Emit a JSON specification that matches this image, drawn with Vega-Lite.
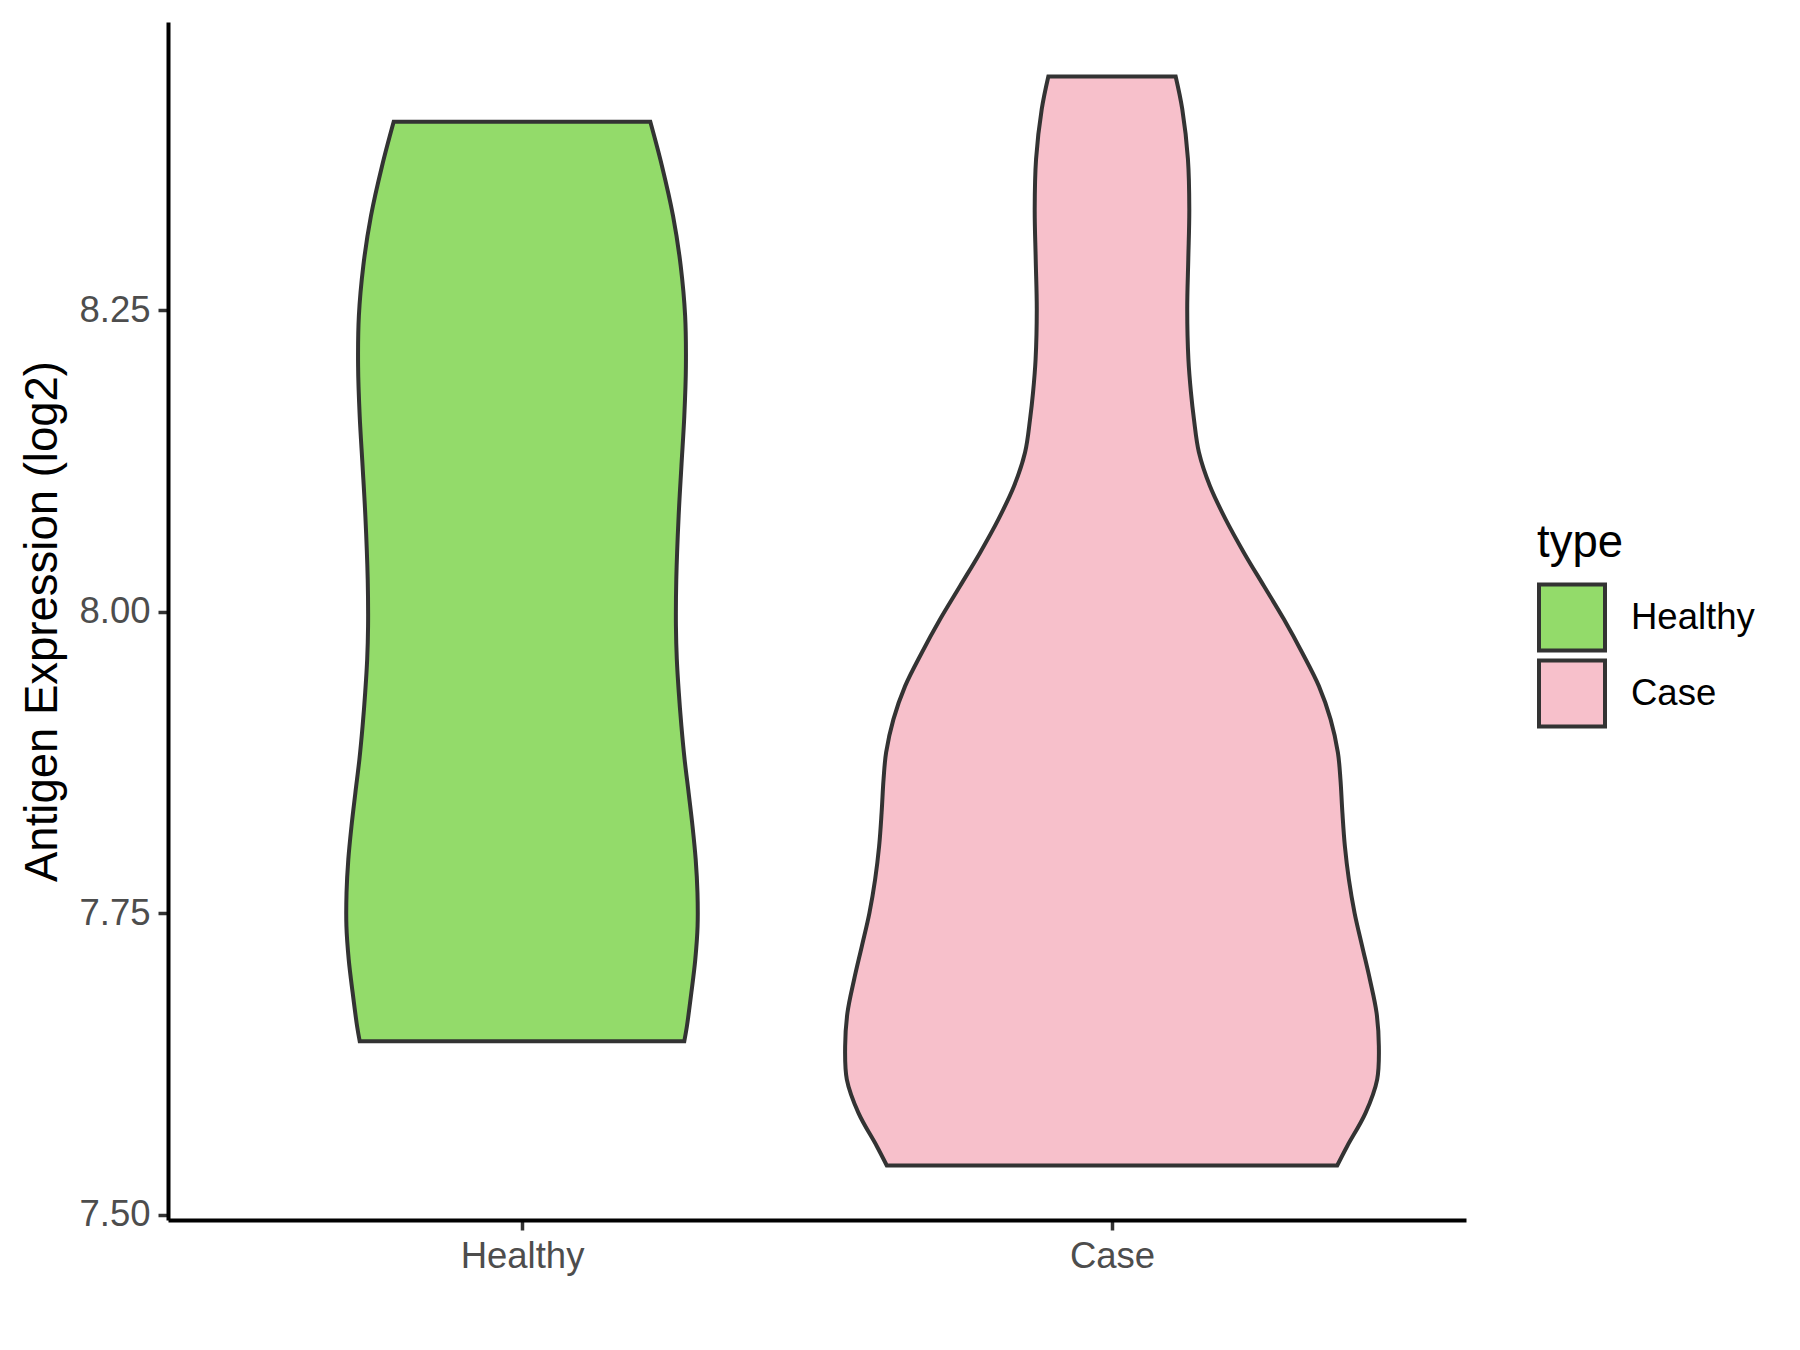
{
  "$schema": "https://vega.github.io/schema/vega-lite/v6.json",
  "autosize": {"type": "none"},
  "width": 1298,
  "height": 1198,
  "padding": {"left": 168, "top": 22, "right": 334, "bottom": 130},
  "background": "white",
  "config": {
    "font": "Liberation Sans",
    "view": {"stroke": null},
    "axis": {"grid": false}
  },
  "data": {
    "values": [
      {"type": "Healthy", "v": 8.4063, "lo": 0.7825, "hi": 1.2175},
      {"type": "Healthy", "v": 8.3697, "lo": 0.7628, "hi": 1.2372},
      {"type": "Healthy", "v": 8.3283, "lo": 0.7440, "hi": 1.2560},
      {"type": "Healthy", "v": 8.2868, "lo": 0.7310, "hi": 1.2690},
      {"type": "Healthy", "v": 8.2453, "lo": 0.7235, "hi": 1.2765},
      {"type": "Healthy", "v": 8.2038, "lo": 0.7222, "hi": 1.2778},
      {"type": "Healthy", "v": 8.1623, "lo": 0.7249, "hi": 1.2751},
      {"type": "Healthy", "v": 8.1208, "lo": 0.7298, "hi": 1.2702},
      {"type": "Healthy", "v": 8.0794, "lo": 0.7345, "hi": 1.2655},
      {"type": "Healthy", "v": 8.0268, "lo": 0.7385, "hi": 1.2615},
      {"type": "Healthy", "v": 7.9881, "lo": 0.7391, "hi": 1.2609},
      {"type": "Healthy", "v": 7.9605, "lo": 0.7376, "hi": 1.2624},
      {"type": "Healthy", "v": 7.9328, "lo": 0.7342, "hi": 1.2658},
      {"type": "Healthy", "v": 7.9051, "lo": 0.7298, "hi": 1.2702},
      {"type": "Healthy", "v": 7.8775, "lo": 0.7244, "hi": 1.2756},
      {"type": "Healthy", "v": 7.8499, "lo": 0.7176, "hi": 1.2824},
      {"type": "Healthy", "v": 7.8222, "lo": 0.7110, "hi": 1.2890},
      {"type": "Healthy", "v": 7.7945, "lo": 0.7056, "hi": 1.2944},
      {"type": "Healthy", "v": 7.7669, "lo": 0.7026, "hi": 1.2974},
      {"type": "Healthy", "v": 7.7392, "lo": 0.7024, "hi": 1.2976},
      {"type": "Healthy", "v": 7.7116, "lo": 0.7063, "hi": 1.2937},
      {"type": "Healthy", "v": 7.6839, "lo": 0.7130, "hi": 1.2870},
      {"type": "Healthy", "v": 7.6562, "lo": 0.7205, "hi": 1.2795},
      {"type": "Healthy", "v": 7.6438, "lo": 0.7249, "hi": 1.2751},
      {"type": "Case", "v": 8.4439, "lo": 1.8921, "hi": 2.1079},
      {"type": "Case", "v": 8.4168, "lo": 1.8809, "hi": 2.1191},
      {"type": "Case", "v": 8.3753, "lo": 1.8713, "hi": 2.1287},
      {"type": "Case", "v": 8.3338, "lo": 1.8690, "hi": 2.1310},
      {"type": "Case", "v": 8.2923, "lo": 1.8707, "hi": 2.1293},
      {"type": "Case", "v": 8.2509, "lo": 1.8725, "hi": 2.1275},
      {"type": "Case", "v": 8.2094, "lo": 1.8705, "hi": 2.1295},
      {"type": "Case", "v": 8.1820, "lo": 1.8662, "hi": 2.1338},
      {"type": "Case", "v": 8.1596, "lo": 1.8611, "hi": 2.1389},
      {"type": "Case", "v": 8.1320, "lo": 1.8526, "hi": 2.1474},
      {"type": "Case", "v": 8.1042, "lo": 1.8340, "hi": 2.1660},
      {"type": "Case", "v": 8.0766, "lo": 1.8074, "hi": 2.1926},
      {"type": "Case", "v": 8.0490, "lo": 1.7764, "hi": 2.2236},
      {"type": "Case", "v": 8.0213, "lo": 1.7425, "hi": 2.2575},
      {"type": "Case", "v": 7.9937, "lo": 1.7086, "hi": 2.2914},
      {"type": "Case", "v": 7.9660, "lo": 1.6776, "hi": 2.3224},
      {"type": "Case", "v": 7.9383, "lo": 1.6493, "hi": 2.3507},
      {"type": "Case", "v": 7.9107, "lo": 1.6295, "hi": 2.3705},
      {"type": "Case", "v": 7.8831, "lo": 1.6171, "hi": 2.3829},
      {"type": "Case", "v": 7.8609, "lo": 1.6128, "hi": 2.3872},
      {"type": "Case", "v": 7.8333, "lo": 1.6095, "hi": 2.3905},
      {"type": "Case", "v": 7.8056, "lo": 1.6053, "hi": 2.3947},
      {"type": "Case", "v": 7.7779, "lo": 1.5985, "hi": 2.4015},
      {"type": "Case", "v": 7.7503, "lo": 1.5889, "hi": 2.4111},
      {"type": "Case", "v": 7.7226, "lo": 1.5760, "hi": 2.4240},
      {"type": "Case", "v": 7.6950, "lo": 1.5629, "hi": 2.4371},
      {"type": "Case", "v": 7.6673, "lo": 1.5516, "hi": 2.4484},
      {"type": "Case", "v": 7.6396, "lo": 1.5477, "hi": 2.4523},
      {"type": "Case", "v": 7.6120, "lo": 1.5506, "hi": 2.4494},
      {"type": "Case", "v": 7.5844, "lo": 1.5702, "hi": 2.4298},
      {"type": "Case", "v": 7.5567, "lo": 1.6014, "hi": 2.3986},
      {"type": "Case", "v": 7.5407, "lo": 1.6183, "hi": 2.3817}
    ]
  },
  "mark": {
    "type": "area",
    "orient": "horizontal",
    "interpolate": "catmull-rom",
    "stroke": "#333333",
    "strokeWidth": 4,
    "opacity": 1,
    "fillOpacity": 1
  },
  "encoding": {
    "y": {
      "field": "v",
      "type": "quantitative",
      "scale": {"domain": [7.4955, 8.4891], "nice": false, "zero": false},
      "axis": {
        "title": "Antigen Expression (log2)",
        "titleFontSize": 45.5,
        "titleFontWeight": "normal",
        "titleColor": "#000000",
        "titlePadding": 12,
        "values": [7.5, 7.75, 8.0, 8.25],
        "format": ".2f",
        "labelFontSize": 36.5,
        "labelColor": "#4D4D4D",
        "labelPadding": 8,
        "tickColor": "#333333",
        "tickSize": 10,
        "tickWidth": 3.5,
        "domainColor": "#000000",
        "domainWidth": 4
      }
    },
    "x": {
      "field": "lo",
      "type": "quantitative",
      "scale": {"domain": [0.4, 2.6], "nice": false, "zero": false},
      "axis": {
        "title": null,
        "values": [1, 2],
        "labelExpr": "datum.value == 1 ? 'Healthy' : 'Case'",
        "labelFontSize": 36.5,
        "labelColor": "#4D4D4D",
        "labelPadding": 8,
        "tickColor": "#333333",
        "tickSize": 10,
        "tickWidth": 3.5,
        "domainColor": "#000000",
        "domainWidth": 4
      }
    },
    "x2": {"field": "hi"},
    "fill": {
      "field": "type",
      "type": "nominal",
      "scale": {"domain": ["Healthy", "Case"], "range": ["#93DB6A", "#F7C0CB"]},
      "legend": {
        "title": "type",
        "orient": "none",
        "legendX": 1369,
        "legendY": 499,
        "padding": 0,
        "titleFontSize": 45.5,
        "titleFontWeight": "normal",
        "titleColor": "#000000",
        "titlePadding": 16,
        "labelFontSize": 36.5,
        "labelColor": "#000000",
        "labelOffset": 24,
        "symbolType": "square",
        "symbolSize": 4356,
        "symbolStrokeColor": "#333333",
        "symbolStrokeWidth": 4,
        "symbolOpacity": 1,
        "rowPadding": -12
      }
    }
  }
}
